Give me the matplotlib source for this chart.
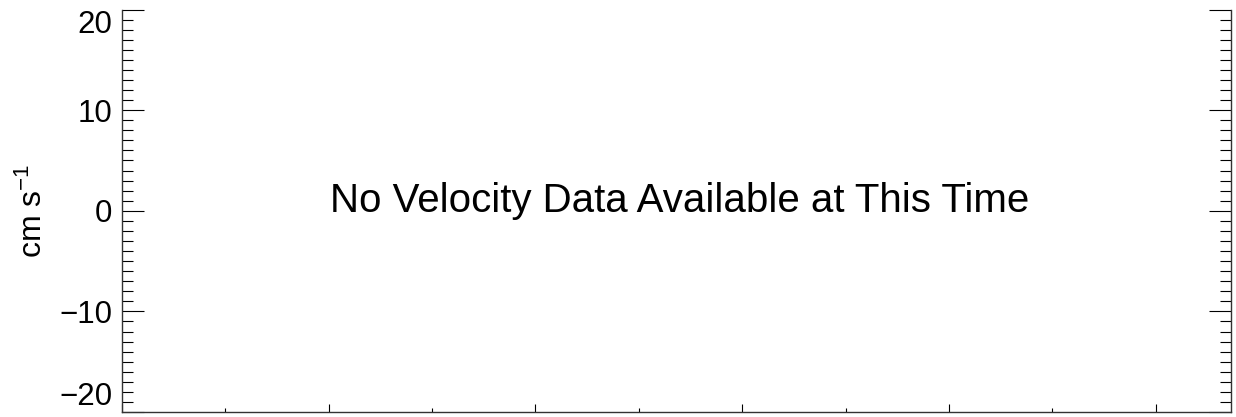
import matplotlib.pyplot as plt
from matplotlib.ticker import MultipleLocator, NullFormatter

# Fonts
plt.rcParams['font.family'] = ['Liberation Sans', 'DejaVu Sans']
plt.rcParams['mathtext.fontset'] = 'custom'
plt.rcParams['mathtext.rm'] = 'Liberation Sans'
plt.rcParams['mathtext.it'] = 'Liberation Sans'

# Velocity record (empty: no data at this time)
time_hours = []
velocity = []

# Axis ranges and ticks
X_RANGE = [0, 10.73]
Y_RANGE = [-20, 20]
Y_TICKS = [-20, -10, 0, 10, 20]
Y_LABEL = 'cm s$^{-1}$'
MESSAGE = 'No Velocity Data Available at This Time'

WIDTH = 12.36
HEIGHT = 4.17

fig = plt.figure(figsize=(WIDTH, HEIGHT), dpi=100)
ax = fig.add_axes([0.0987, 0.012, 0.8973, 0.965])

ax.plot(time_hours, velocity, color='black', linewidth=1)

ax.set_xlim(X_RANGE)
ax.set_ylim(Y_RANGE)

ax.spines['top'].set_visible(False)
for side in ('left', 'right', 'bottom'):
    ax.spines[side].set_linewidth(1.0)
    ax.spines[side].set_color('#333333')

# y ticks on both sides, drawn inward
ax.set_yticks(Y_TICKS)
ax.set_yticklabels([f'{v}'.replace('-', '\u2212') for v in Y_TICKS])
ax.yaxis.set_minor_locator(MultipleLocator(1))
ax.tick_params(axis='y', which='major', direction='in', length=16, width=0.8,
               left=True, right=True, labelsize=22.5, pad=7)
ax.tick_params(axis='y', which='minor', direction='in', length=8, width=0.8,
               left=True, right=True)

# keep the end labels inside the figure
ylabels = ax.get_yticklabels()
ylabels[0].set_va('bottom')
ylabels[-1].set_va('top')

# time axis: ticks only, no labels
ax.xaxis.set_major_locator(MultipleLocator(2))
ax.xaxis.set_minor_locator(MultipleLocator(1))
ax.xaxis.set_major_formatter(NullFormatter())
ax.tick_params(axis='x', which='major', direction='in', length=6, width=0.8)
ax.tick_params(axis='x', which='minor', direction='in', length=3, width=0.8)

ax.set_ylabel(Y_LABEL, fontsize=23)
ax.yaxis.set_label_coords(-0.066, 0.5)

ax.text(0.503, 0.525, MESSAGE, transform=ax.transAxes, ha='center', va='center',
        fontsize=29)

plt.savefig('out.png', dpi=100)
